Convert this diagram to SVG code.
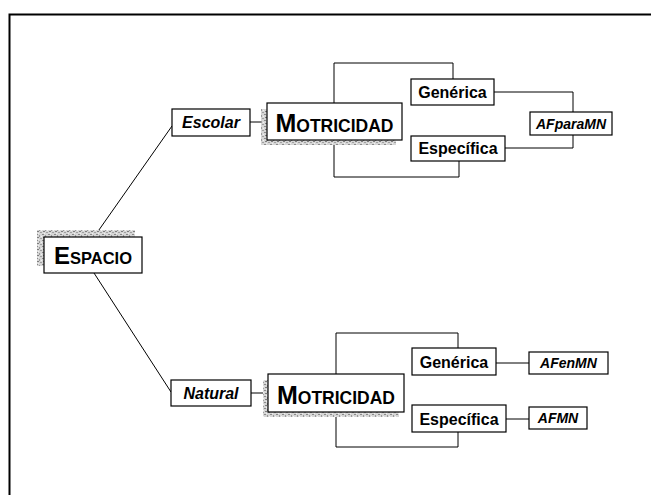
<svg xmlns="http://www.w3.org/2000/svg" width="651" height="495" viewBox="0 0 651 495">
<defs>
<pattern id="speck" width="6" height="6" patternUnits="userSpaceOnUse">
<rect width="6" height="6" fill="#d6d6d6"/>
<rect x="0" y="0" width="2" height="1" fill="#8a8a8a"/>
<rect x="3" y="1" width="1" height="2" fill="#9a9a9a"/>
<rect x="1" y="3" width="2" height="1" fill="#7d7d7d"/>
<rect x="4" y="4" width="2" height="1" fill="#a0a0a0"/>
<rect x="5" y="2" width="1" height="1" fill="#f2f2f2"/>
<rect x="2" y="5" width="1" height="1" fill="#f0f0f0"/>
</pattern>
</defs>
<style>
.box{fill:#fff;stroke:#000;stroke-width:1.2}
.shadow{fill:url(#speck)}
.ln{fill:none;stroke:#000;stroke-width:1}
text{font-family:"Liberation Sans",Arial,sans-serif;font-weight:bold;fill:#000}
.it{font-style:italic}
</style>
<rect width="651" height="495" fill="#fff"/>
<path d="M9.5,495 V14.5 H651" fill="none" stroke="#000" stroke-width="2"/>

<g id="connectors">
<line class="ln" x1="94" y1="237" x2="172" y2="126"/>
<line class="ln" x1="94" y1="273" x2="171" y2="392"/>
<line class="ln" x1="250" y1="122" x2="267" y2="122"/>
<line class="ln" x1="251" y1="393" x2="268" y2="393"/>
<path class="ln" d="M453,79 V63 H334 V177 H459 V161"/>
<path class="ln" d="M494,92 H573 V112 M505,148 H573 V135"/>
<path class="ln" d="M458,348 V333 H336 V447 H458 V432"/>
<line class="ln" x1="496" y1="363" x2="529" y2="363"/>
<line class="ln" x1="506" y1="419" x2="529" y2="419"/>
</g>

<g id="espacio">
<rect class="shadow" x="37" y="230" width="98" height="36"/>
<rect class="box" x="44" y="237" width="98" height="36"/>
<text x="93" y="264" text-anchor="middle"><tspan font-size="24">E</tspan><tspan font-size="16.5">SPACIO</tspan></text>
</g>

<g id="escolar">
<rect class="box" x="172" y="109" width="78" height="27"/>
<text class="it" x="211" y="128" font-size="16" text-anchor="middle">Escolar</text>
</g>

<g id="natural">
<rect class="box" x="171" y="380" width="80" height="26"/>
<text class="it" x="211" y="399" font-size="16" text-anchor="middle">Natural</text>
</g>

<g id="motricidad1">
<rect class="shadow" x="261" y="109" width="135" height="36"/>
<rect class="box" x="267" y="103" width="135" height="37"/>
<text x="334.5" y="132" text-anchor="middle"><tspan font-size="25">M</tspan><tspan font-size="17.5">OTRICIDAD</tspan></text>
</g>

<g id="motricidad2">
<rect class="shadow" x="263" y="380" width="136" height="37"/>
<rect class="box" x="268" y="374" width="136" height="38"/>
<text x="336" y="404" text-anchor="middle"><tspan font-size="25">M</tspan><tspan font-size="17.5">OTRICIDAD</tspan></text>
</g>

<g id="generica1">
<rect class="box" x="411" y="79" width="83" height="26"/>
<text x="452.5" y="98" font-size="16" text-anchor="middle">Genérica</text>
</g>

<g id="especifica1">
<rect class="box" x="411" y="136" width="94" height="25"/>
<text x="458" y="154" font-size="16" text-anchor="middle">Específica</text>
</g>

<g id="afparamn">
<rect class="box" x="530" y="112" width="82" height="23"/>
<text class="it" x="571" y="128.5" font-size="14" text-anchor="middle">AFparaMN</text>
</g>

<g id="generica2">
<rect class="box" x="412" y="348" width="84" height="27"/>
<text x="454" y="368" font-size="16" text-anchor="middle">Genérica</text>
</g>

<g id="especifica2">
<rect class="box" x="412" y="405" width="94" height="27"/>
<text x="459" y="425" font-size="16" text-anchor="middle">Específica</text>
</g>

<g id="afenmn">
<rect class="box" x="529" y="352" width="79" height="22"/>
<text class="it" x="568.5" y="368" font-size="14" text-anchor="middle">AFenMN</text>
</g>

<g id="afmn">
<rect class="box" x="529" y="407" width="58" height="22"/>
<text class="it" x="558" y="423" font-size="14" text-anchor="middle">AFMN</text>
</g>
</svg>
